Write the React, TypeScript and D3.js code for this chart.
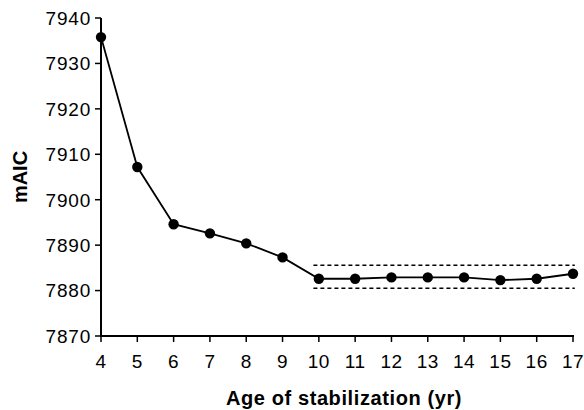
import React from "react";
import * as d3 from "d3";

const ages = [4, 5, 6, 7, 8, 9, 10, 11, 12, 13, 14, 15, 16, 17];
const maic = [7935.8, 7907.2, 7894.6, 7892.6, 7890.4, 7887.3, 7882.6, 7882.6, 7882.9, 7882.9, 7882.9, 7882.3, 7882.6, 7883.7];
const yTicks = [7870, 7880, 7890, 7900, 7910, 7920, 7930, 7940];
const bandStart = 9.85;
const bandEnd = 17.05;
const bandUpper = 7885.6;
const bandLower = 7880.5;

export default function App() {
  const W = 584, H = 410;
  const x = d3.scaleLinear().domain([4, 17]).range([101, 573]);
  const y = d3.scaleLinear().domain([7870, 7940]).range([336, 18]);
  const line = d3.line<number>().x((_, i) => x(ages[i])).y((d) => y(d));
  const font = "'Liberation Sans', Arial, Helvetica, sans-serif";
  return (
    <svg width={W} height={H} style={{ position: "absolute", left: 0, top: 0, background: "#fff" }} fontFamily={font}>
      {/* axes */}
      <line x1={x(4)} x2={x(4)} y1={y(7940)} y2={y(7870) + 1} stroke="#000" strokeWidth={2} />
      <line x1={x(4) - 1} x2={x(17) + 1} y1={y(7870)} y2={y(7870)} stroke="#000" strokeWidth={2} />
      {yTicks.map((t) => (
        <g key={t}>
          <line x1={x(4) - 6} x2={x(4)} y1={y(t)} y2={y(t)} stroke="#000" strokeWidth={1.5} />
          <text x={x(4) - 10} y={y(t)} dy="0.36em" textAnchor="end" fontSize={19} letterSpacing={0.8} fill="#000">{t}</text>
        </g>
      ))}
      {ages.map((a) => (
        <g key={a}>
          <line x1={x(a)} x2={x(a)} y1={y(7870)} y2={y(7870) + 6} stroke="#000" strokeWidth={1.5} />
          <text x={x(a)} y={368} textAnchor="middle" fontSize={19} letterSpacing={0.5} fill="#000">{a}</text>
        </g>
      ))}
      {/* band */}
      <line x1={x(bandStart)} x2={x(bandEnd)} y1={y(bandUpper)} y2={y(bandUpper)} stroke="#000" strokeWidth={1.5} strokeDasharray="4,3" />
      <line x1={x(bandStart)} x2={x(bandEnd)} y1={y(bandLower)} y2={y(bandLower)} stroke="#000" strokeWidth={1.5} strokeDasharray="4,3" />
      {/* series */}
      <path d={line(maic) || ""} fill="none" stroke="#000" strokeWidth={1.8} />
      {maic.map((v, i) => (
        <circle key={i} cx={x(ages[i])} cy={y(v)} r={5.2} fill="#000" />
      ))}
      {/* titles */}
      <text transform={`translate(27,177) rotate(-90)`} textAnchor="middle" fontSize={20} fontWeight="bold" fill="#000">mAIC</text>
      <text x={344} y={405} textAnchor="middle" fontSize={20} fontWeight="bold" letterSpacing={0.6} fill="#000">Age of stabilization (yr)</text>
    </svg>
  );
}
